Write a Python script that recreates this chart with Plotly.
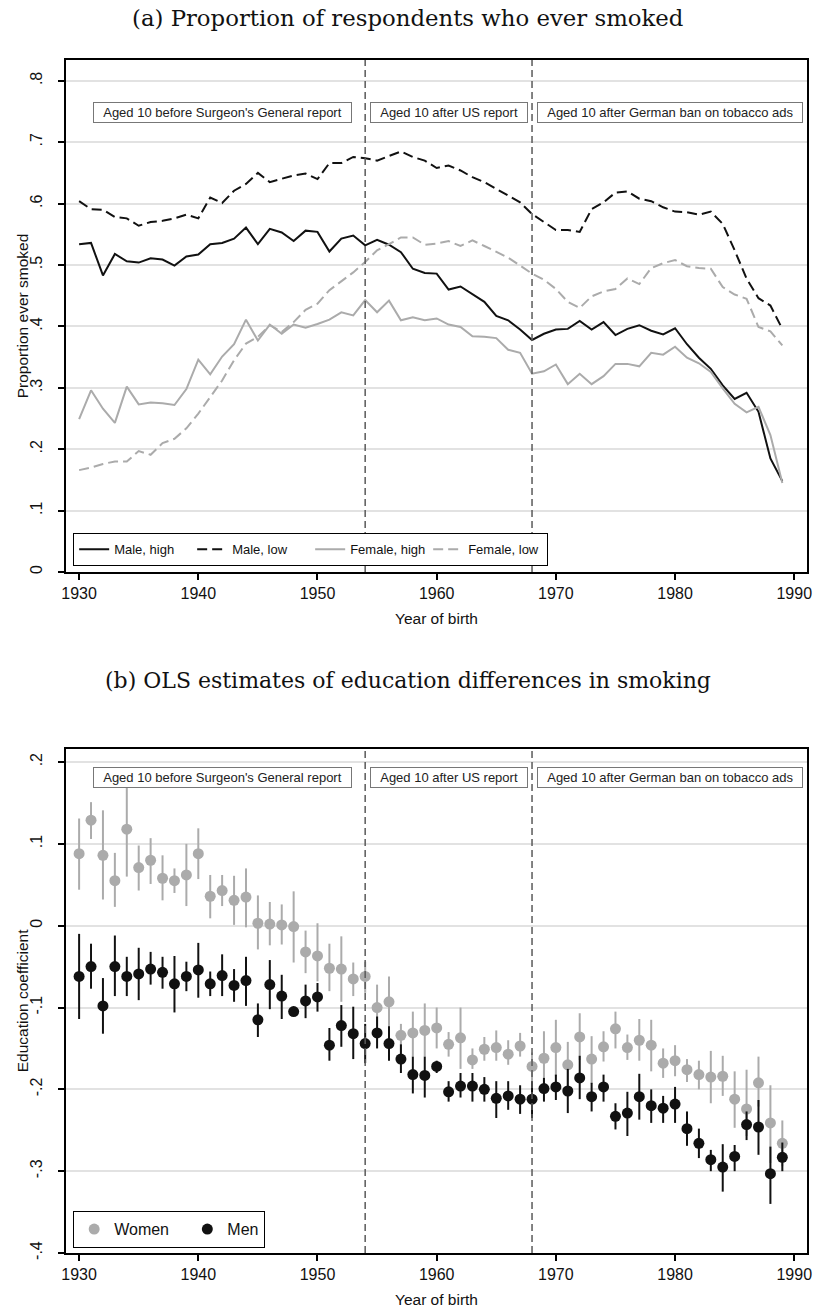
import plotly.graph_objects as go

# ---------------- data ----------------
years = list(range(1930, 1990))

male_high = [0.534, 0.536, 0.483, 0.518, 0.506, 0.504, 0.511, 0.509, 0.499, 0.514,
             0.517, 0.534, 0.536, 0.543, 0.561, 0.534, 0.559, 0.553, 0.539, 0.556,
             0.554, 0.522, 0.543, 0.548, 0.532, 0.541, 0.533, 0.521, 0.494, 0.487,
             0.486, 0.460, 0.465, 0.452, 0.440, 0.417, 0.410, 0.395, 0.378, 0.388,
             0.395, 0.396, 0.409, 0.395, 0.407, 0.386, 0.396, 0.402, 0.393, 0.387,
             0.397, 0.371, 0.349, 0.331, 0.304, 0.282, 0.292, 0.261, 0.185, 0.148]

male_low = [0.604, 0.591, 0.590, 0.578, 0.576, 0.564, 0.570, 0.572, 0.576, 0.582,
            0.576, 0.610, 0.601, 0.621, 0.632, 0.650, 0.635, 0.640, 0.646, 0.649,
            0.640, 0.666, 0.666, 0.676, 0.674, 0.670, 0.678, 0.685, 0.676, 0.670,
            0.658, 0.662, 0.654, 0.643, 0.635, 0.624, 0.613, 0.602, 0.583, 0.570,
            0.557, 0.557, 0.554, 0.591, 0.602, 0.618, 0.620, 0.608, 0.604, 0.594,
            0.587, 0.586, 0.582, 0.587, 0.567, 0.524, 0.478, 0.446, 0.434, 0.396]

female_high = [0.249, 0.296, 0.266, 0.243, 0.302, 0.273, 0.276, 0.275, 0.272, 0.298,
               0.346, 0.322, 0.351, 0.371, 0.411, 0.377, 0.403, 0.388, 0.403, 0.398,
               0.404, 0.411, 0.423, 0.418, 0.443, 0.423, 0.442, 0.410, 0.415, 0.410,
               0.413, 0.403, 0.399, 0.384, 0.383, 0.381, 0.362, 0.357, 0.323, 0.327,
               0.338, 0.306, 0.323, 0.306, 0.319, 0.339, 0.339, 0.335, 0.357, 0.354,
               0.367, 0.349, 0.340, 0.326, 0.299, 0.274, 0.260, 0.269, 0.223, 0.145]

female_low = [0.166, 0.170, 0.176, 0.180, 0.180, 0.197, 0.191, 0.210, 0.217, 0.234,
              0.258, 0.285, 0.312, 0.345, 0.372, 0.383, 0.402, 0.391, 0.407, 0.427,
              0.437, 0.459, 0.474, 0.488, 0.505, 0.524, 0.534, 0.545, 0.545, 0.533,
              0.535, 0.539, 0.531, 0.540, 0.531, 0.522, 0.512, 0.499, 0.486, 0.476,
              0.461, 0.440, 0.430, 0.449, 0.457, 0.461, 0.478, 0.469, 0.495, 0.503,
              0.508, 0.498, 0.495, 0.494, 0.464, 0.452, 0.445, 0.399, 0.392, 0.369]

women_est = [0.088, 0.129, 0.086, 0.055, 0.118, 0.071, 0.080, 0.058, 0.055, 0.062,
             0.088, 0.036, 0.043, 0.031, 0.035, 0.003, 0.002, 0.001, -0.001, -0.032,
             -0.037, -0.052, -0.053, -0.065, -0.062, -0.100, -0.093, -0.134, -0.131, -0.128,
             -0.125, -0.145, -0.137, -0.164, -0.151, -0.149, -0.157, -0.147, -0.172, -0.162,
             -0.149, -0.170, -0.136, -0.163, -0.148, -0.126, -0.149, -0.140, -0.146, -0.168,
             -0.165, -0.176, -0.182, -0.185, -0.184, -0.212, -0.224, -0.192, -0.241, -0.266]
women_lo = [0.044, 0.106, 0.032, 0.023, 0.060, 0.043, 0.051, 0.031, 0.040, 0.024,
            0.057, 0.009, 0.024, 0.001, -0.002, -0.029, -0.024, -0.023, -0.045, -0.058,
            -0.068, -0.080, -0.093, -0.086, -0.082, -0.123, -0.127, -0.155, -0.160, -0.160,
            -0.150, -0.160, -0.175, -0.175, -0.165, -0.165, -0.170, -0.160, -0.190, -0.197,
            -0.184, -0.197, -0.164, -0.193, -0.166, -0.150, -0.164, -0.165, -0.178, -0.186,
            -0.184, -0.191, -0.200, -0.217, -0.208, -0.247, -0.257, -0.221, -0.290, -0.294]
women_hi = [0.131, 0.151, 0.141, 0.089, 0.185, 0.098, 0.107, 0.086, 0.070, 0.100,
            0.119, 0.062, 0.062, 0.061, 0.070, 0.037, 0.029, 0.026, 0.042, -0.006,
            0.003, -0.022, -0.013, -0.045, -0.044, -0.072, -0.062, -0.120, -0.105, -0.095,
            -0.100, -0.130, -0.100, -0.150, -0.136, -0.128, -0.140, -0.131, -0.155, -0.129,
            -0.115, -0.142, -0.107, -0.135, -0.129, -0.105, -0.133, -0.114, -0.115, -0.150,
            -0.146, -0.163, -0.165, -0.153, -0.159, -0.178, -0.176, -0.160, -0.195, -0.238]

men_est = [-0.062, -0.050, -0.098, -0.050, -0.062, -0.059, -0.053, -0.057, -0.071, -0.062,
           -0.054, -0.071, -0.061, -0.073, -0.067, -0.115, -0.072, -0.086, -0.105, -0.092,
           -0.087, -0.146, -0.122, -0.132, -0.144, -0.131, -0.144, -0.163, -0.182, -0.183,
           -0.172, -0.203, -0.196, -0.196, -0.200, -0.211, -0.208, -0.212, -0.212, -0.199,
           -0.197, -0.202, -0.186, -0.209, -0.197, -0.233, -0.229, -0.209, -0.220, -0.223,
           -0.218, -0.248, -0.266, -0.286, -0.295, -0.282, -0.243, -0.246, -0.303, -0.283]
men_lo = [-0.114, -0.077, -0.132, -0.086, -0.086, -0.091, -0.072, -0.077, -0.106, -0.080,
          -0.088, -0.086, -0.086, -0.093, -0.098, -0.136, -0.102, -0.114, -0.110, -0.113,
          -0.105, -0.165, -0.148, -0.163, -0.168, -0.150, -0.165, -0.180, -0.205, -0.210,
          -0.180, -0.215, -0.210, -0.215, -0.215, -0.235, -0.225, -0.230, -0.235, -0.215,
          -0.213, -0.229, -0.212, -0.227, -0.215, -0.249, -0.257, -0.237, -0.241, -0.241,
          -0.241, -0.269, -0.284, -0.300, -0.325, -0.300, -0.262, -0.280, -0.340, -0.300]
men_hi = [-0.010, -0.022, -0.064, -0.012, -0.038, -0.027, -0.032, -0.038, -0.037, -0.044,
          -0.021, -0.056, -0.035, -0.053, -0.038, -0.095, -0.042, -0.060, -0.100, -0.072,
          -0.070, -0.125, -0.097, -0.099, -0.120, -0.111, -0.123, -0.145, -0.160, -0.160,
          -0.165, -0.190, -0.180, -0.180, -0.185, -0.190, -0.190, -0.195, -0.190, -0.186,
          -0.182, -0.175, -0.159, -0.192, -0.182, -0.217, -0.203, -0.181, -0.200, -0.208,
          -0.197, -0.227, -0.248, -0.274, -0.267, -0.268, -0.227, -0.213, -0.270, -0.265]

event_years = [1954, 1968]
period_labels = ["Aged 10 before Surgeon's General report",
                 "Aged 10 after US report",
                 "Aged 10 after German ban on tobacco ads"]
period_centers = [1942.0, 1961.0, 1979.55]

x_ticks = [1930, 1940, 1950, 1960, 1970, 1980, 1990]
top_ticks = [0, 0.1, 0.2, 0.3, 0.4, 0.5, 0.6, 0.7, 0.8]
top_ticktext = ["0", ".1", ".2", ".3", ".4", ".5", ".6", ".7", ".8"]
bot_ticks = [-0.4, -0.3, -0.2, -0.1, 0, 0.1, 0.2]
bot_ticktext = ["-.4", "-.3", "-.2", "-.1", "0", ".1", ".2"]

# ---------------- styling ----------------
BLACK = "#111111"
GRAY = "#ababab"
SANS = "Liberation Sans, Arial, Helvetica, sans-serif"
SERIF = "DejaVu Serif, serif"
NBSP = "\u00a0"

fig = go.Figure()

series = [("Male, high", male_high, BLACK, "solid"),
          ("Male, low", male_low, BLACK, "10px,5px"),
          ("Female, high", female_high, GRAY, "solid"),
          ("Female, low", female_low, GRAY, "10px,5px")]
for name, vals, col, dash in series:
    fig.add_trace(go.Scatter(x=years, y=vals, mode="lines", name=name,
                             line=dict(color=col, width=2, dash=dash),
                             xaxis="x", yaxis="y", legend="legend"))

for name, est, lo, hi, col in [("Women" + NBSP * 3, women_est, women_lo, women_hi, GRAY),
                               ("Men", men_est, men_lo, men_hi, BLACK)]:
    fig.add_trace(go.Scatter(
        x=years, y=est, mode="markers", name=name,
        marker=dict(size=11, color=col),
        error_y=dict(type="data", symmetric=False,
                     array=[h - e for h, e in zip(hi, est)],
                     arrayminus=[e - l for e, l in zip(est, lo)],
                     width=0, thickness=2, color=col),
        xaxis="x2", yaxis="y2", legend="legend2"))

TOP_DOM = [0.5708, 1.0]
BOT_DOM = [0.0, 0.4225]

common_x = dict(range=[1928.9, 1991.07], tickvals=x_ticks, ticks="outside", ticklen=6,
                tickwidth=1.5, tickcolor="black", showline=True, linecolor="black",
                linewidth=1.5, mirror=True, showgrid=False, zeroline=False,
                tickfont=dict(family=SANS, size=16, color="#111"),
                title=dict(text="Year of birth", standoff=12,
                           font=dict(family=SANS, size=15.5, color="#111")))
common_y = dict(ticks="outside", ticklen=6, tickwidth=1.5, tickcolor="black",
                showline=True, linecolor="black", linewidth=1.5, mirror=True,
                showgrid=True, gridcolor="#e2e2e2", gridwidth=1.5, zeroline=False,
                tickangle=-90, ticklabelstandoff=10,
                tickfont=dict(family=SANS, size=16, color="#111"))

fig.update_layout(
    width=820, height=1315,
    margin=dict(l=66, r=8, t=60, b=62),
    plot_bgcolor="white", paper_bgcolor="white",
    xaxis=dict(domain=[0, 1], anchor="y", **common_x),
    yaxis=dict(domain=TOP_DOM, anchor="x", range=[0, 0.8339], tickvals=top_ticks,
               ticktext=top_ticktext, **common_y),
    xaxis2=dict(domain=[0, 1], anchor="y2", **common_x),
    yaxis2=dict(domain=BOT_DOM, anchor="x2", range=[-0.4, 0.216], tickvals=bot_ticks,
                ticktext=bot_ticktext, **common_y),
    legend=dict(orientation="h", x=0.0094, y=0.6035, xanchor="left", yanchor="top",
                bordercolor="black", borderwidth=1.2, bgcolor="white",
                font=dict(family=SANS, size=13, color="#111"), itemwidth=30,
                entrywidth=73, entrywidthmode="pixels"),
    legend2=dict(orientation="h", x=0.0094, y=0.0352, xanchor="left", yanchor="top",
                 bordercolor="black", borderwidth=1.2, bgcolor="white",
                 font=dict(family=SANS, size=16, color="#111"), itemwidth=30),
    showlegend=True,
)

# y-axis titles
for txt, yc in [("Proportion ever smoked", 0.7854), ("Education coefficient", 0.2112)]:
    fig.add_annotation(x=-0.059, y=yc, xref="paper", yref="paper", text=txt,
                       textangle=-90, showarrow=False, xanchor="center", yanchor="middle",
                       font=dict(family=SANS, size=15.5, color="#111"))

# vertical event lines
for yr in event_years:
    for xr, yr_ref in [("x", "y domain"), ("x2", "y2 domain")]:
        fig.add_shape(type="line", xref=xr, yref=yr_ref, x0=yr, x1=yr, y0=0, y1=1,
                      line=dict(color="#5a5a5a", width=1.5, dash="7px,4px"), layer="above")

# period label boxes
NB = NBSP * 2
for lab, cx in zip(period_labels, period_centers):
    for xr, yr_ref, yv in [("x", "y", 0.749), ("x2", "y2", 0.181)]:
        fig.add_annotation(x=cx, y=yv, xref=xr, yref=yr_ref, text=NB + lab + NB,
                           showarrow=False, bgcolor="white", bordercolor="#777",
                           borderwidth=1, borderpad=2,
                           font=dict(family=SANS, size=13, color="#222"))

# panel titles
fig.add_annotation(x=0.4611, y=1.0352, xref="paper", yref="paper",
                   text="(a) Proportion of respondents who ever smoked", showarrow=False,
                   font=dict(family=SERIF, size=22.8, color="#111"), yanchor="middle")
fig.add_annotation(x=0.4611, y=0.4803, xref="paper", yref="paper",
                   text="(b) OLS estimates of education differences in smoking", showarrow=False,
                   font=dict(family=SERIF, size=22.0, color="#111"), yanchor="middle")

fig.write_html("out.html")
